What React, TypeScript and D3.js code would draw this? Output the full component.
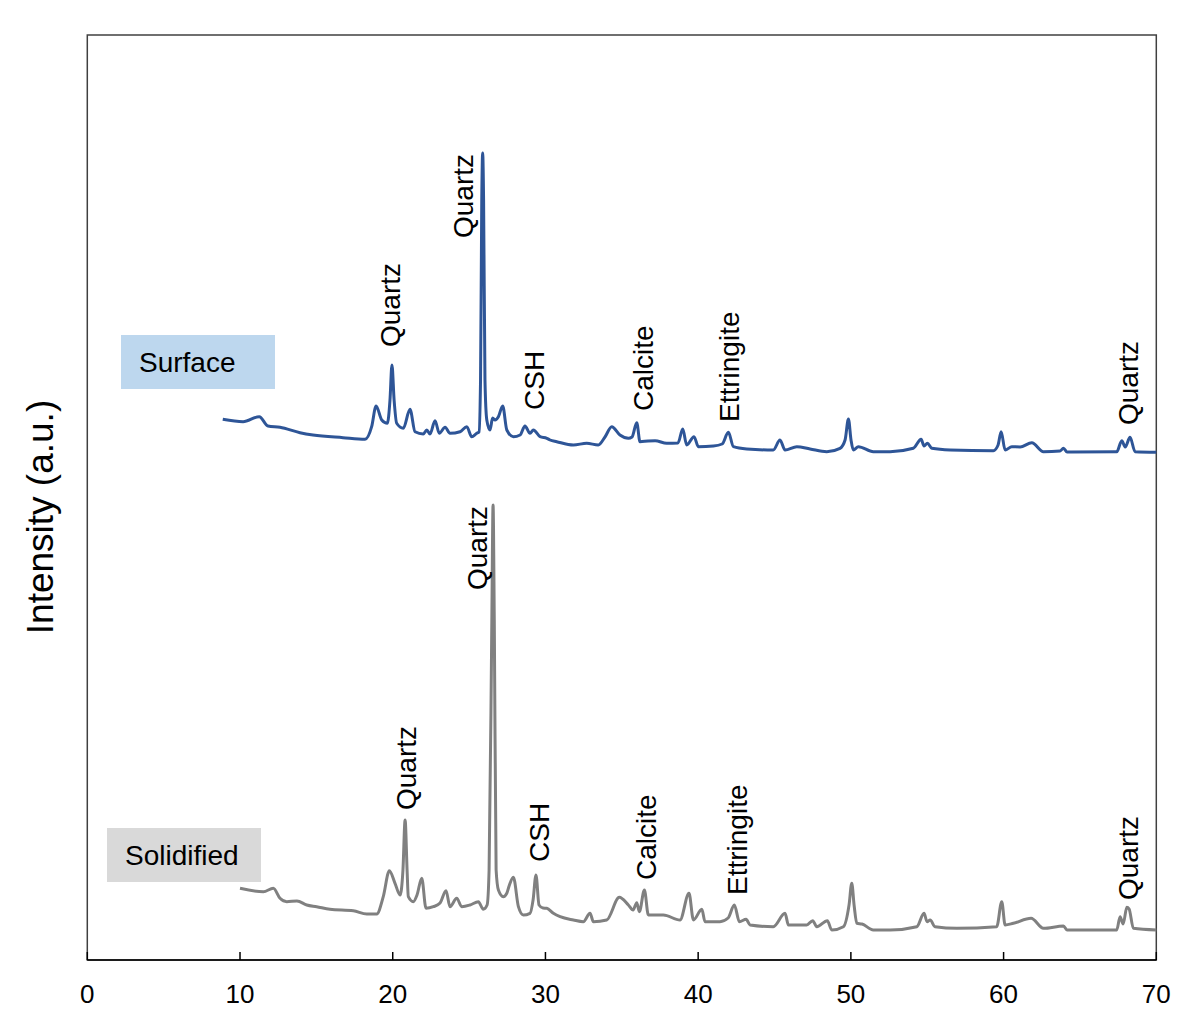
import React from "react";
import * as d3 from "d3";

// 2θ (degrees) and intensity (a.u.)
const surfaceTheta = [8.87, 10.2, 11.26, 11.83, 12.62, 13.93, 14.78, 16.75, 18.19, 18.62, 18.91, 19.28, 19.65, 19.82, 19.95, 20.09, 20.26, 20.69, 21.13, 21.46, 22.0, 22.23, 22.44, 22.77, 23.05, 23.43, 23.75, 24.41, 24.85, 25.17, 25.5, 25.65, 25.75, 25.83, 25.89, 25.95, 26.04, 26.16, 26.37, 26.54, 26.7, 26.92, 27.2, 27.47, 27.9, 28.34, 28.66, 28.99, 29.21, 29.65, 30.09, 30.3, 30.74, 31.83, 32.7, 33.46, 33.9, 34.34, 34.88, 35.43, 35.67, 35.98, 36.19, 36.72, 37.18, 37.94, 38.68, 38.99, 39.25, 39.73, 40.01, 41.0, 41.57, 41.98, 42.31, 43.18, 44.92, 45.36, 45.69, 46.46, 47.33, 48.42, 49.29, 49.62, 49.84, 50.01, 50.16, 50.49, 51.47, 52.57, 54.09, 54.6, 54.79, 55.01, 55.3, 56.5, 59.33, 59.64, 59.84, 60.1, 60.54, 61.08, 61.85, 62.61, 63.7, 63.92, 64.16, 67.41, 67.74, 67.96, 68.28, 68.61, 70.0];
const surfaceIntensity = [540.7, 538.3, 543.3, 534, 532.7, 527.3, 525, 522.3, 520.7, 533.3, 554, 540, 536.7, 560, 595, 560, 536.7, 531.7, 550.7, 528.3, 526, 530, 526, 539.3, 526.7, 532.7, 526.7, 528.3, 533.3, 523.3, 526.7, 528, 580, 760, 807, 760, 580, 540, 530, 542, 540, 543.3, 554, 530, 523.3, 525, 534, 526.7, 530, 523.3, 521.7, 520, 518.3, 515, 516.7, 515, 523, 533.3, 525, 521.7, 523, 537.3, 518.3, 519, 519.3, 516.7, 517, 531, 515, 523.3, 513.3, 514, 516, 527.7, 513.3, 511, 510, 520, 510, 513.3, 511, 508.3, 511.7, 520, 541, 520, 510, 513.3, 508.3, 508.3, 511.7, 520.7, 514, 516.7, 511.7, 510, 509.3, 515, 528.3, 510, 513.3, 513, 517.3, 508.3, 509, 511.7, 508, 508.3, 519.3, 513, 522.7, 508.3, 507.7];

const solidTheta = [10.0, 11.53, 12.18, 12.62, 13.06, 13.73, 14.37, 15.02, 15.89, 17.42, 18.3, 18.95, 19.38, 19.78, 20.15, 20.48, 20.67, 20.81, 20.94, 21.02, 21.35, 21.59, 21.9, 22.18, 22.66, 23.1, 23.49, 23.75, 24.19, 24.52, 25.06, 25.61, 25.93, 26.18, 26.31, 26.49, 26.57, 26.65, 26.77, 26.92, 27.24, 27.47, 27.62, 27.9, 28.23, 28.55, 28.99, 29.19, 29.38, 29.58, 29.84, 30.09, 30.52, 30.96, 31.83, 32.48, 32.92, 33.14, 34.01, 34.84, 35.43, 35.74, 35.98, 36.15, 36.48, 36.74, 37.72, 38.81, 39.4, 39.69, 40.24, 40.45, 41.43, 41.96, 42.37, 42.7, 43.14, 43.4, 44.92, 45.69, 45.91, 47.11, 47.5, 47.77, 48.46, 48.75, 49.51, 49.88, 50.06, 50.21, 50.39, 50.73, 51.47, 52.57, 54.32, 54.79, 54.99, 55.19, 55.51, 56.94, 59.55, 59.88, 60.1, 60.64, 61.8, 62.61, 63.92, 64.16, 67.41, 67.63, 67.83, 68.07, 68.22, 68.5, 70.0];
const solidIntensity = [71.7, 68.3, 71.7, 61.7, 58.3, 59, 55, 53.3, 50.7, 49.3, 46, 46, 63.3, 89.3, 76.7, 65, 90, 140, 90, 63.3, 58.3, 65, 81.7, 51.7, 53.3, 57, 69.3, 53.3, 61.7, 53.3, 55, 58.3, 50.7, 55, 90, 340, 455, 340, 90, 70, 63.3, 66.7, 74, 82.7, 53.3, 45, 46.7, 60, 85, 55, 52, 51.7, 46.7, 43.3, 40, 38.3, 46.7, 38.3, 40, 62.7, 55, 50, 57.3, 48.3, 70, 45, 45, 40, 66.7, 40, 50.7, 38.3, 38.3, 42, 55, 38.3, 40.7, 35, 33.3, 46.7, 35, 35, 39.3, 33.3, 39.3, 30, 33.3, 55, 76.7, 55, 36.7, 36, 30, 30, 33.3, 46.7, 38.3, 40, 33.3, 31.7, 33.3, 58.3, 35, 36.7, 41.7, 31.7, 34, 30, 30, 43.3, 36, 52.7, 51, 31.7, 30];

const xTicks = [0, 10, 20, 30, 40, 50, 60, 70];

const surfaceLabels = ["Quartz", "Quartz", "CSH", "Calcite", "Ettringite", "Quartz"];
const surfaceLabelTheta = [20.5, 25.25, 29.9, 37.05, 42.7, 68.8];
const surfaceLabelBase = [613, 722, 550, 549, 538, 535];

const solidLabels = ["Quartz", "Quartz", "CSH", "Calcite", "Ettringite", "Quartz"];
const solidLabelTheta = [21.52, 26.2, 30.25, 37.25, 43.2, 68.8];
const solidLabelBase = [150, 370, 98, 80, 65, 60];

export default function App() {
  const W = 1200;
  const H = 1026;
  const left = 87.3, right = 1156.3, top = 35, bottom = 960;
  const x = d3.scaleLinear().domain([0, 70]).range([left, right]);
  const y = d3.scaleLinear().domain([0, 925]).range([bottom, top]);
  const line = d3
    .line<[number, number]>()
    .x((d) => x(d[0]))
    .y((d) => y(d[1]))
    .curve(d3.curveMonotoneX);
  const surf = surfaceTheta.map((t, i) => [t, surfaceIntensity[i]] as [number, number]);
  const sol = solidTheta.map((t, i) => [t, solidIntensity[i]] as [number, number]);
  const font = "Arial, 'Liberation Sans', sans-serif";

  return (
    <svg
      width={W}
      height={H}
      style={{ position: "absolute", left: 0, top: 0, background: "#fff" }}
      fontFamily={font}
    >
      <rect x={0} y={0} width={W} height={H} fill="#fff" />
      {/* frame */}
      <rect x={left} y={top} width={right - left} height={bottom - top} fill="none" stroke="#404040" strokeWidth={1.5} />
      <line x1={left} x2={right} y1={bottom} y2={bottom} stroke="#000" strokeWidth={1.5} />
      {xTicks.map((t) => (
        <g key={t}>
          <line x1={x(t)} x2={x(t)} y1={bottom} y2={bottom - 8} stroke="#000" strokeWidth={1.5} />
          <text x={x(t)} y={1003} textAnchor="middle" fontSize={26} fill="#000">
            {t}
          </text>
        </g>
      ))}
      <text
        transform={`translate(53, 517) rotate(-90)`}
        textAnchor="middle"
        fontSize={37}
        fill="#000"
      >
        Intensity (a.u.)
      </text>

      <path d={line(surf) || ""} fill="none" stroke="#2E5597" strokeWidth={3} strokeLinejoin="round" />
      <path d={line(sol) || ""} fill="none" stroke="#808080" strokeWidth={3} strokeLinejoin="round" />

      {surfaceLabels.map((s, i) => (
        <text
          key={"s" + i}
          transform={`translate(${x(surfaceLabelTheta[i])}, ${y(surfaceLabelBase[i])}) rotate(-90)`}
          fontSize={28}
          fill="#000"
        >
          {s}
        </text>
      ))}
      {solidLabels.map((s, i) => (
        <text
          key={"d" + i}
          transform={`translate(${x(solidLabelTheta[i])}, ${y(solidLabelBase[i])}) rotate(-90)`}
          fontSize={28}
          fill="#000"
        >
          {s}
        </text>
      ))}

      <rect x={121} y={335} width={154} height={54} fill="#BDD7EE" />
      <text x={139} y={372} fontSize={28} fill="#000">
        Surface
      </text>
      <rect x={107} y={828} width={154} height={54} fill="#D9D9D9" />
      <text x={125} y={865} fontSize={28} fill="#000">
        Solidified
      </text>
    </svg>
  );
}
